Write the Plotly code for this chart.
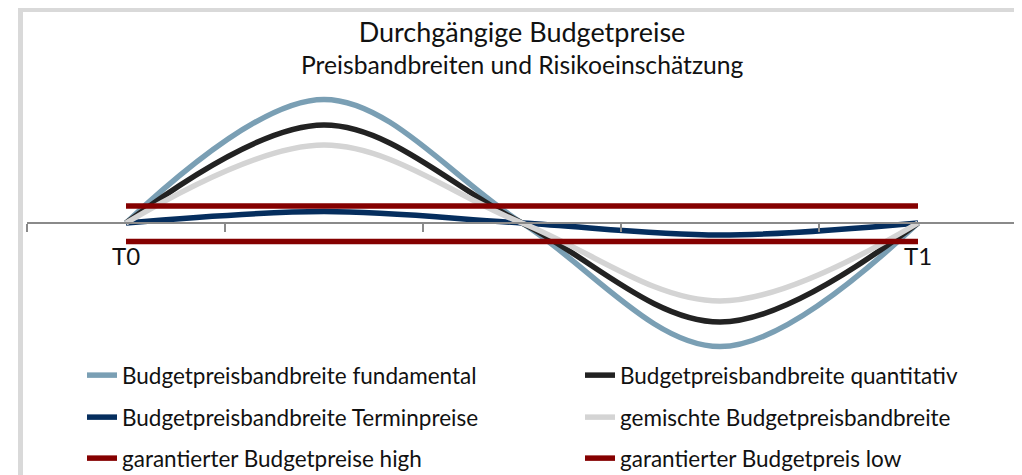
import plotly.graph_objects as go

# ---------------- data ----------------
x_index = [0, 1, 2, 3, 4]
x_labels = ["T0", "", "", "", "T1"]

fundamental = [0, 6.18, 0, -6.18, 0]
quantitativ = [0, 4.9, 0, -4.95, 0]
terminpreise = [0, 0.57, 0, -0.6, 0]
gemischt = [0, 3.9, 0, -3.9, 0]
garantiert_high = [0.85, 0.85, 0.85, 0.85, 0.85]
garantiert_low = [-0.93, -0.93, -0.93, -0.93, -0.93]

title_text = "Durchgängige Budgetpreise"
subtitle_text = "Preisbandbreiten und Risikoeinschätzung"

series_names = [
    "Budgetpreisbandbreite fundamental",
    "Budgetpreisbandbreite quantitativ",
    "Budgetpreisbandbreite Terminpreise",
    "gemischte Budgetpreisbandbreite",
    "garantierter Budgetpreise high",
    "garantierter Budgetpreis low",
]
series_values = [fundamental, quantitativ, terminpreise, gemischt,
                 garantiert_high, garantiert_low]
series_colors = ["#7a9fb4", "#222222", "#052e5e", "#d4d4d4", "#850000", "#850000"]
series_shapes = ["spline", "spline", "spline", "spline", "linear", "linear"]

# ---------------- layout geometry ----------------
# The page body has an 8px margin, so figure px = page px - OFF.
OFF = 8
W, H = 1022 - OFF, 475 - OFF
PLOT_LEFT, PLOT_RIGHT, PLOT_TOP, PLOT_BOTTOM = 27, 1017, 83, 363  # page px
L, T = PLOT_LEFT - OFF, PLOT_TOP - OFF
R, B = W - (PLOT_RIGHT - OFF), H - (PLOT_BOTTOM - OFF)
plot_w = PLOT_RIGHT - PLOT_LEFT
plot_h = PLOT_BOTTOM - PLOT_TOP
FONT = "Lato"
LEG_FONT = 22.5
leg_text_cols = [122, 620]   # page px where legend text starts
leg_row_centers = [375, 417, 458]  # page px


def px_x(px):
    return (px - PLOT_LEFT) / plot_w


def px_y(py):
    return (PLOT_BOTTOM - py) / plot_h


def cont_y(py):
    return 1 - (py - OFF) / H


fig = go.Figure()
legend_layout = {}
for i, (name, vals, col, shp) in enumerate(zip(series_names, series_values,
                                               series_colors, series_shapes)):
    lg = "legend" if i == 0 else f"legend{i + 1}"
    fig.add_trace(go.Scatter(
        x=x_index, y=vals, name=name, mode="lines",
        line=dict(color=col, width=5.5, shape=shp, smoothing=1),
        legend=lg, hoverinfo="skip",
    ))
    legend_layout[lg] = dict(
        orientation="v", xanchor="left", yanchor="top",
        x=px_x(leg_text_cols[i % 2] - 40), y=px_y(leg_row_centers[i // 2] - 21),
        font=dict(family=FONT, size=LEG_FONT, color="#111111"),
        bgcolor="rgba(0,0,0,0)", itemclick=False, itemdoubleclick=False,
    )

fig.update_layout(
    width=W, height=H,
    margin=dict(l=L, r=R, t=T, b=B, pad=0, autoexpand=False),
    paper_bgcolor="white", plot_bgcolor="white",
    font=dict(family=FONT, color="#111111"),
    title=dict(
        text=title_text,
        x=0.5, xref="paper", xanchor="center",
        y=cont_y(33), yref="container", yanchor="middle",
        font=dict(family=FONT, size=27, color="#111111"),
    ),
    annotations=[dict(
        text=subtitle_text, xref="paper", yref="paper",
        x=0.5, y=px_y(64), xanchor="center", yanchor="middle",
        showarrow=False, font=dict(family=FONT, size=24.7, color="#111111"),
    )],
    showlegend=True,
    xaxis=dict(
        range=[-0.5, 4.5], anchor="free", position=0.5,
        showline=True, linecolor="#8a8a8a", linewidth=2,
        showgrid=False, zeroline=False,
        tickmode="array", tickvals=x_index, ticktext=x_labels,
        ticks="", ticklabelstandoff=12,
        tickfont=dict(family=FONT, size=24, color="#111111"),
        minor=dict(tickmode="array", tickvals=[-0.5, 0.5, 1.5, 2.5, 3.5, 4.5],
                   ticks="outside", ticklen=8, tickwidth=2, tickcolor="#8a8a8a",
                   showgrid=False),
        fixedrange=True,
    ),
    yaxis=dict(range=[-7, 7], visible=False, showgrid=False, zeroline=False,
               fixedrange=True),
    shapes=[dict(
        type="rect", xref="paper", yref="paper",
        x0=px_x(20.5), x1=px_x(1017.5), y0=px_y(490), y1=px_y(9.5),
        line=dict(color="#d9d9d9", width=5), fillcolor="rgba(0,0,0,0)",
        layer="below",
    )],
    **legend_layout,
)

fig.write_html("out.html", config={"displayModeBar": False})
